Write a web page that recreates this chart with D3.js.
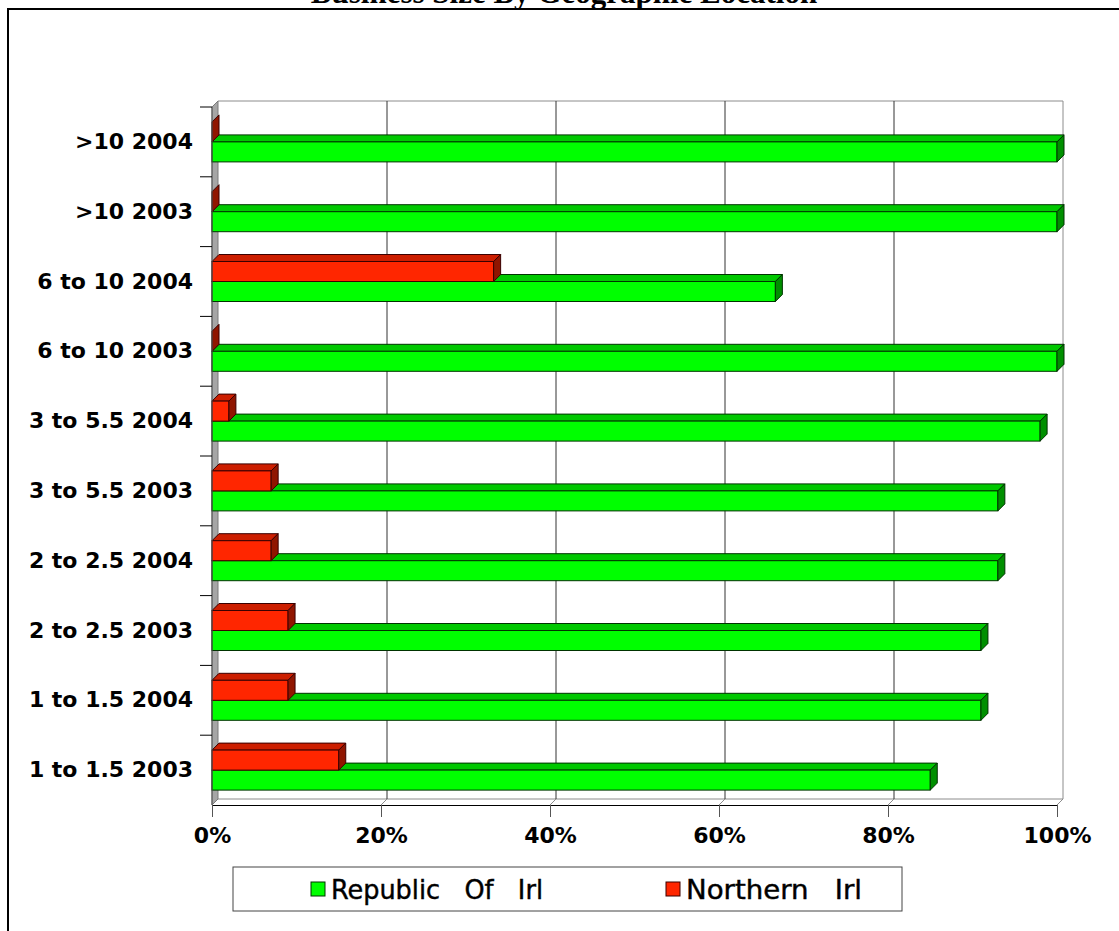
<!DOCTYPE html>
<html>
<head>
<meta charset="utf-8">
<script src="https://cdn.jsdelivr.net/npm/d3@7"></script>
<style>
  html, body { margin: 0; padding: 0; background: #fff; overflow: hidden; }
  svg { display: block; }
</style>
</head>
<body>
<svg id="chart" width="1119" height="931"></svg>
<script>
// Business size categories, bottom to top
const categories = ["1 to 1.5 2003", "1 to 1.5 2004", "2 to 2.5 2003", "2 to 2.5 2004",
  "3 to 5.5 2003", "3 to 5.5 2004", "6 to 10 2003", "6 to 10 2004", ">10 2003", ">10 2004"];
// Share of businesses (%) per location
const republicOfIrl = [85, 91, 91, 93, 93, 98, 100, 66.67, 100, 100];
const northernIrl   = [15, 9, 9, 7, 7, 2, 0, 33.33, 0, 0];
const seriesNames = ["Republic   Of   Irl", "Northern   Irl"];
const xTicks = [0, 20, 40, 60, 80, 100];
const chartTitle = "Business Size By Geographic Location";

const svg = d3.select("#chart");

// Plot geometry (front plane) and 3-D depth
const plotLeft = 212, plotRight = 1057, plotTop = 107, plotBottom = 805;
const wallDepth = 6, barDepth = 7;

const x = d3.scaleLinear().domain([0, 100]).range([plotLeft, plotRight]);
const y = d3.scaleBand().domain(categories).range([plotBottom, plotTop])
  .paddingInner(0.427).paddingOuter(0.2135);
const inner = d3.scaleBand().domain(["north", "republic"]).range([0, y.bandwidth()]);

// Outer frame
svg.append("rect").attr("x", 8).attr("y", 9).attr("width", 1300).attr("height", 1100)
  .attr("fill", "none").attr("stroke", "#000").attr("stroke-width", 2);

// Title (sits above the frame, partly outside the page)
svg.append("text").attr("x", 564).attr("y", 3).attr("text-anchor", "middle")
  .attr("font-family", "'Liberation Serif', 'Times New Roman', serif")
  .attr("font-weight", "bold").attr("font-size", 31).attr("fill", "#000")
  .text(chartTitle);

// Floor
svg.append("path")
  .attr("d", `M${plotLeft},${plotBottom}L${plotLeft + wallDepth},${plotBottom - wallDepth}L${plotRight + wallDepth},${plotBottom - wallDepth}L${plotRight},${plotBottom}Z`)
  .attr("fill", "#fff").attr("stroke", "none");
svg.append("line").attr("x1", plotLeft + wallDepth).attr("x2", plotRight + wallDepth)
  .attr("y1", plotBottom - wallDepth).attr("y2", plotBottom - wallDepth).attr("stroke", "#8c8c8c");
svg.append("line").attr("x1", plotRight).attr("y1", plotBottom)
  .attr("x2", plotRight + wallDepth).attr("y2", plotBottom - wallDepth).attr("stroke", "#8c8c8c");

// Back wall outline
svg.append("path")
  .attr("d", `M${plotLeft + wallDepth},${plotTop - wallDepth}H${plotRight + wallDepth}V${plotBottom - wallDepth}`)
  .attr("fill", "none").attr("stroke", "#8c8c8c");

// Vertical gridlines on back wall and floor
const grid = svg.append("g");
xTicks.filter(v => v > 0 && v < 100).forEach(v => {
  grid.append("line").attr("x1", x(v) + wallDepth).attr("x2", x(v) + wallDepth)
    .attr("y1", plotTop - wallDepth).attr("y2", plotBottom - wallDepth).attr("stroke", "#333");
  grid.append("line").attr("x1", x(v)).attr("y1", plotBottom)
    .attr("x2", x(v) + wallDepth).attr("y2", plotBottom - wallDepth).attr("stroke", "#8c8c8c");
});

// Left side wall
svg.append("path")
  .attr("d", `M${plotLeft},${plotTop}L${plotLeft + wallDepth},${plotTop - wallDepth}L${plotLeft + wallDepth},${plotBottom - wallDepth}L${plotLeft},${plotBottom}Z`)
  .attr("fill", "#a6a6a6").attr("stroke", "#7a7a7a");

// 3-D bars
const styles = {
  republic: { front: "#00ff00", topFace: "#00c800", side: "#008f00", stroke: "#003300" },
  north:    { front: "#ff2600", topFace: "#cc1e00", side: "#901500", stroke: "#3a0000" }
};
function bar3d(g, value, y0, h, s) {
  const x0 = x(0), x1 = x(value), d = barDepth, y1 = y0 + h;
  if (x1 > x0) {
    g.append("path").attr("d", `M${x0},${y0}L${x0 + d},${y0 - d}L${x1 + d},${y0 - d}L${x1},${y0}Z`)
      .attr("fill", s.topFace).attr("stroke", s.stroke).attr("stroke-width", 1);
    g.append("rect").attr("x", x0).attr("y", y0).attr("width", x1 - x0).attr("height", h)
      .attr("fill", s.front).attr("stroke", s.stroke).attr("stroke-width", 1);
  }
  g.append("path").attr("d", `M${x1},${y0}L${x1 + d},${y0 - d}L${x1 + d},${y1 - d}L${x1},${y1}Z`)
    .attr("fill", s.side).attr("stroke", s.stroke).attr("stroke-width", 1);
}
const bars = svg.append("g");
categories.forEach((c, i) => {
  const g = bars.append("g");
  bar3d(g, republicOfIrl[i], y(c) + inner("republic"), inner.bandwidth(), styles.republic);
  bar3d(g, northernIrl[i], y(c) + inner("north"), inner.bandwidth(), styles.north);
});

// Category axis: front edge, boundary ticks and labels
svg.append("line").attr("x1", plotLeft).attr("x2", plotLeft).attr("y1", plotTop).attr("y2", plotBottom)
  .attr("stroke", "#555");
const boundaries = categories.map(c => y(c) - y.step() * y.paddingInner() / 2);
boundaries.forEach(b => {
  svg.append("line").attr("x1", plotLeft - 12).attr("x2", plotLeft).attr("y1", b).attr("y2", b)
    .attr("stroke", "#000");
});
const yAxis = svg.append("g").attr("transform", `translate(${plotLeft},0)`)
  .call(d3.axisLeft(y).tickSize(0).tickPadding(19));
yAxis.select(".domain").remove();
yAxis.selectAll("text")
  .attr("font-family", "'DejaVu Sans', Verdana, sans-serif")
  .attr("font-weight", "bold").attr("font-size", 22).attr("fill", "#000");

// Value axis
const xAxis = svg.append("g").attr("transform", `translate(0,${plotBottom})`)
  .call(d3.axisBottom(x).tickValues(xTicks).tickFormat(d => d + "%")
    .tickSize(12).tickSizeOuter(0).tickPadding(10));
xAxis.select(".domain").attr("stroke", "#000");
xAxis.selectAll("line").attr("stroke", "#555");
xAxis.selectAll("text")
  .attr("font-family", "'DejaVu Sans', Verdana, sans-serif")
  .attr("font-weight", "bold").attr("font-size", 22).attr("fill", "#000");

// Legend
const legend = svg.append("g");
legend.append("rect").attr("x", 233).attr("y", 867).attr("width", 669).attr("height", 44)
  .attr("fill", "#fff").attr("stroke", "#444");
const legendItems = [
  { name: seriesNames[0], s: styles.republic, mx: 311, tx: 331, w: 212 },
  { name: seriesNames[1], s: styles.north, mx: 666, tx: 686, w: 176 }
];
legendItems.forEach(it => {
  legend.append("rect").attr("x", it.mx).attr("y", 882).attr("width", 14).attr("height", 14)
    .attr("fill", it.s.front).attr("stroke", it.s.stroke);
  legend.append("text").attr("x", it.tx).attr("y", 899)
    .attr("xml:space", "preserve").style("white-space", "pre")
    .attr("font-family", "'DejaVu Sans Condensed', 'DejaVu Sans', sans-serif")
    .attr("font-size", 27).attr("fill", "#000")
    .attr("stroke", "#000").attr("stroke-width", 0.4)
    .attr("textLength", it.w).attr("lengthAdjust", "spacingAndGlyphs")
    .text(it.name);
});
</script>
</body>
</html>
